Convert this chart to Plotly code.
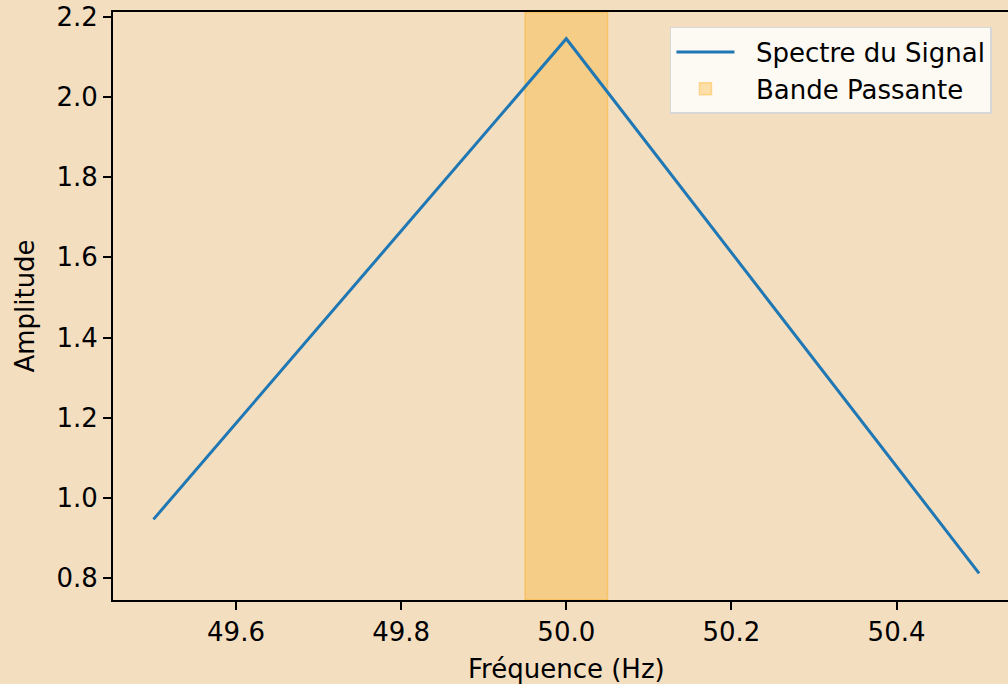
import plotly.graph_objects as go

# Data
freq = [49.5, 50.0, 50.5]
amplitude = [0.947, 2.145, 0.8125]
band_low = 49.95
band_high = 50.05
x_ticks = [49.6, 49.8, 50.0, 50.2, 50.4]
y_ticks = [0.8, 1.0, 1.2, 1.4, 1.6, 1.8, 2.0, 2.2]
series_names = ["Spectre du Signal", "Bande Passante"]

BG = "rgb(243,222,192)"
FONT = "DejaVu Sans"
FS = 26
PAD = "\u00a0\u00a0"

fig = go.Figure()
fig.add_trace(go.Scatter(
    x=freq, y=amplitude, mode="lines", name=PAD + series_names[0],
    line=dict(color="#1f77b4", width=3), legendrank=1,
))

fig.add_shape(
    type="rect", xref="x", yref="paper",
    x0=band_low, x1=band_high, y0=0, y1=1,
    fillcolor="rgba(255,165,0,0.3)",
    line=dict(color="rgba(255,165,0,0.35)", width=1.5),
    layer="below", showlegend=True, name=PAD + series_names[1], legendrank=2,
)

fig.add_annotation(
    x=50.0, xref="x", y=0, yref="paper", yanchor="top",
    yshift=-52, text="Fréquence (Hz)", showarrow=False,
    font=dict(family=FONT, size=FS, color="black"),
)

fig.update_layout(
    width=1008, height=684,
    margin=dict(l=113, r=0, t=12, b=84),
    paper_bgcolor=BG, plot_bgcolor=BG,
    font=dict(family=FONT, size=FS, color="black"),
    showlegend=True,
    legend=dict(
        x=0.6223, xanchor="left", y=0.9745, yanchor="top",
        bgcolor="rgba(255,255,255,0.8)", bordercolor="rgb(215,215,215)",
        borderwidth=1.5, font=dict(family=FONT, size=FS), itemwidth=58,
    ),
    xaxis=dict(
        range=[49.451, 50.535], tickvals=x_ticks,
        ticktext=[f"{v:.1f}" for v in x_ticks],
        showgrid=False, zeroline=False, showline=True, linecolor="black",
        linewidth=2, mirror=True, ticks="outside", ticklen=8, tickwidth=1.6,
        tickcolor="black",
    ),
    yaxis=dict(
        range=[0.746, 2.2116], tickvals=y_ticks,
        ticktext=[f"{v:.1f}" for v in y_ticks],
        showgrid=False, zeroline=False, showline=True, linecolor="black",
        linewidth=2, ticks="outside", ticklen=8, tickwidth=1.6,
        tickcolor="black",
        title=dict(text="Amplitude", standoff=14, font=dict(family=FONT, size=FS)),
    ),
)

fig.write_html("out.html", config={"displayModeBar": False},
               post_script="document.body.style.margin='0';")
